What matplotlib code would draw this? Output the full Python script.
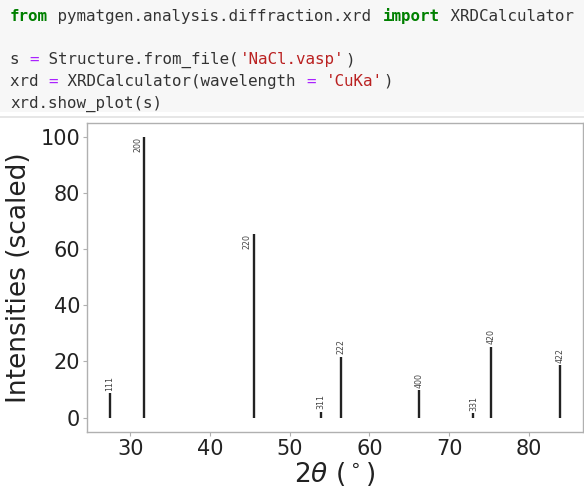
import matplotlib
matplotlib.use("Agg")
import matplotlib.pyplot as plt
from matplotlib.patches import Rectangle
from matplotlib.lines import Line2D

# peak data (NaCl, CuKa)
two_theta = [27.37, 31.70, 45.45, 53.87, 56.48, 66.22, 73.07, 75.30, 83.99]
intensity = [8.6, 100.0, 65.5, 2.1, 21.5, 9.7, 1.5, 25.1, 18.6]
hkl_labels = ["111", "200", "220", "311", "222", "400", "331", "420", "422"]

# notebook cell text (segment, style)
code_lines = [
    [("from", "kw"), (" pymatgen.analysis.diffraction.xrd ", "n"), ("import", "kw"), (" XRDCalculator", "n")],
    [],
    [("s ", "n"), ("=", "op"), (" Structure.from_file(", "n"), ("'NaCl.vasp'", "str"), (")", "n")],
    [("xrd ", "n"), ("=", "op"), (" XRDCalculator(wavelength ", "n"), ("=", "op"), (" ", "n"),
     ("'CuKa'", "str"), (")", "n")],
    [("xrd.show_plot(s)", "n")],
]
code_styles = {
    "kw": dict(color="#008000", fontweight="bold"),
    "n": dict(color="#333333"),
    "op": dict(color="#aa22ff"),
    "str": dict(color="#ba2121"),
}

W, H, DPI = 584, 487, 100
fig = plt.figure(figsize=(W / DPI, H / DPI), dpi=DPI)

# code cell background + separator
fig.add_artist(Rectangle((0, 1 - 112 / H), 1, 112 / H, transform=fig.transFigure,
                         facecolor="#f7f7f7", edgecolor="none", zorder=0))
fig.add_artist(Line2D([0, 1], [1 - 117 / H] * 2, transform=fig.transFigure,
                      color="#e2e2e2", lw=1.2))

code_fs = 11.45
char_w = 0.602 * code_fs * DPI / 72  # monospace advance in px
x0, y0, line_h = 10, 21, 21.6
for li, segs in enumerate(code_lines):
    col = 0
    base = y0 + li * line_h
    for txt, st in segs:
        fig.text((x0 + col * char_w) / W, 1 - base / H, txt, family="DejaVu Sans Mono",
                 fontsize=code_fs, va="baseline", ha="left", **code_styles[st])
        col += len(txt)

# XRD plot
ax = fig.add_axes([87 / W, 55.3 / H, 496 / W, 309 / H])
ax.vlines(two_theta, 0, intensity, color="#222222", lw=1.7)
for tt, inten, lab in zip(two_theta, intensity, hkl_labels):
    if inten > 50:
        ax.text(tt - 0.25, inten, lab, rotation=90, ha="right", va="top", fontsize=5.7, color="#444444")
    else:
        ax.text(tt, inten + 1, lab, rotation=90, ha="center", va="bottom", fontsize=5.7, color="#444444")

ax.margins(0.05)
ax.set_yticks([0, 20, 40, 60, 80, 100])
ax.set_xticks([30, 40, 50, 60, 70, 80])
ax.tick_params(labelsize=15, length=3, width=0.8, color="#b0b0b0", labelcolor="#222222", pad=2)
for sp in ax.spines.values():
    sp.set_color("#b0b0b0")
    sp.set_linewidth(1.0)
ax.set_ylabel("Intensities (scaled)", fontsize=19, color="#222222", labelpad=6)
ax.set_xlabel(r"$2\theta$ ($^\circ$)", fontsize=19, color="#222222", labelpad=1)

fig.savefig("out.png", dpi=DPI)
